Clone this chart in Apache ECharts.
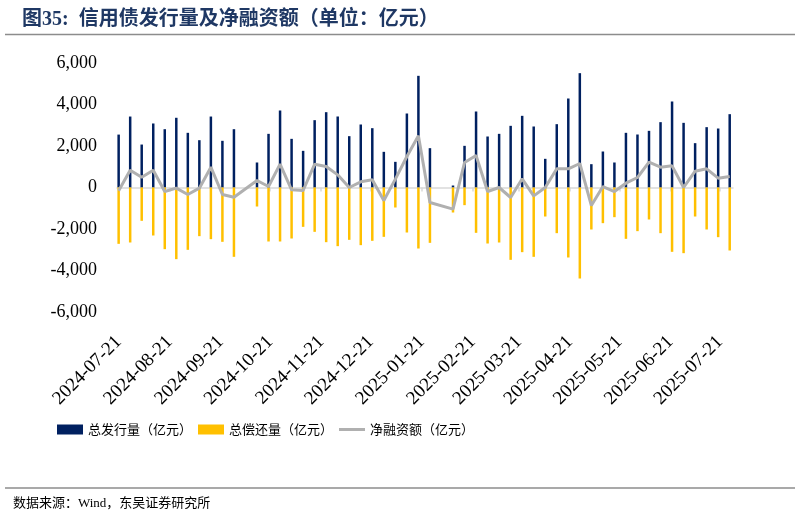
<!DOCTYPE html>
<html><head><meta charset="utf-8">
<script src="https://cdn.jsdelivr.net/npm/echarts@6/dist/echarts.min.js"></script>
<style>html,body{margin:0;padding:0;background:#fff}#c{width:800px;height:520px}</style>
</head><body><div id="c"></div>
<script>
var weeks = ['2024-07-21','2024-07-28','2024-08-04','2024-08-11','2024-08-18','2024-08-25','2024-09-01','2024-09-08','2024-09-15','2024-09-22','2024-09-29','2024-10-06','2024-10-13','2024-10-20','2024-10-27','2024-11-03','2024-11-10','2024-11-17','2024-11-24','2024-12-01','2024-12-08','2024-12-15','2024-12-22','2024-12-29','2025-01-05','2025-01-12','2025-01-19','2025-01-26','2025-02-02','2025-02-09','2025-02-16','2025-02-23','2025-03-02','2025-03-09','2025-03-16','2025-03-23','2025-03-30','2025-04-06','2025-04-13','2025-04-20','2025-04-27','2025-05-04','2025-05-11','2025-05-18','2025-05-25','2025-06-01','2025-06-08','2025-06-15','2025-06-22','2025-06-29','2025-07-06','2025-07-13','2025-07-20','2025-07-27'];
var issuance = [2550,3420,2070,3085,2810,3360,2635,2280,3420,2250,2810,null,1205,2586,3711,2345,1767,3245,3630,3422,2474,3036,2859,1719,1237,3566,5382,1896,null,96,2008,3663,2458,2586,2972,3454,2940,1382,3052,4289,5510,1124,1735,1205,2635,2554,2731,3149,4145,3116,2137,2908,2843,3534];
var repayment = [-2715,-2650,-1606,-2313,-2972,-3454,-3004,-2345,-2490,-2618,-3341,null,-916,-2602,-2602,-2458,-1896,-2137,-2635,-2827,-2522,-2779,-2570,-2378,-964,-2169,-2940,-2667,null,-1205,-851,-2185,-2699,-2651,-3486,-3116,-3341,-1398,-2201,-3373,-4386,-2024,-1719,-1430,-2474,-2104,-1542,-2201,-3100,-3165,-1398,-2024,-2394,-3036];
var netFinancing = [-160,835,498,835,-193,-32,-337,-32,980,-337,-466,null,337,48,1124,-112,-145,1124,1012,610,0,273,369,-627,402,1494,2490,-723,null,-1044,1205,1542,-193,0,-482,418,-402,0,900,900,1157,-867,48,-193,209,482,1221,980,1044,0,787,900,450,530];
var tickLabels = ['2024-07-21','2024-08-21','2024-09-21','2024-10-21','2024-11-21','2024-12-21','2025-01-21','2025-02-21','2025-03-21','2025-04-21','2025-05-21','2025-06-21','2025-07-21'];

var DAY = 86400000;
function dayNum(s){var p=s.split('-');return Math.round(Date.UTC(+p[0],+p[1]-1,+p[2])/DAY);}
function fmtDate(v){var d=new Date(v*DAY);var m=d.getUTCMonth()+1,dd=d.getUTCDate();return d.getUTCFullYear()+'-'+(m<10?'0':'')+m+'-'+(dd<10?'0':'')+dd;}
function pairs(arr){return weeks.map(function(w,i){return [dayNum(w),arr[i]];});}
var tickDays = tickLabels.map(dayNum);
var xMin = dayNum('2024-07-20'), xMax = dayNum('2025-07-29');
var serif = "'Liberation Serif','Noto Sans CJK SC'";
var cjk = "'Noto Sans CJK SC','Liberation Serif'";

var chart = echarts.init(document.getElementById('c'), null, {renderer:'canvas'});
chart.setOption({
  animation:false,
  title:{text:'图35:  信用债发行量及净融资额（单位：亿元）',left:17,top:5,textStyle:{fontFamily:serif,fontSize:20,fontWeight:'bold',color:'#1F3864'}},
  graphic:[
    {type:'line',shape:{x1:5,y1:34.5,x2:795,y2:34.5},style:{stroke:'#8C8C8C',lineWidth:1.5}},
    {type:'line',shape:{x1:5,y1:488,x2:795,y2:488},style:{stroke:'#8C8C8C',lineWidth:1.5}},
    {type:'text',left:13,top:497,style:{text:'数据来源：Wind，东吴证券研究所',fontFamily:serif,fontSize:13,fill:'#000'}}
  ],
  legend:{left:57,top:423,padding:0,itemWidth:26,itemHeight:10,itemGap:6,textStyle:{fontFamily:cjk,fontSize:13,color:'#000'},
    data:[{name:'总发行量（亿元）',icon:'rect'},{name:'总偿还量（亿元）',icon:'rect'},{name:'净融资额（亿元）',icon:'path://M0,0L26,0L26,3L0,3Z'}]},
  grid:{left:117,top:63,width:616,height:249},
  xAxis:[
    {type:'value',min:xMin,max:xMax,position:'bottom',axisLine:{show:false,onZero:false},axisTick:{show:false},splitLine:{show:false},
     axisLabel:{customValues:tickDays,rotate:45,margin:27,fontFamily:serif,fontSize:19,color:'#000',formatter:function(v){return fmtDate(v);}}},
    {type:'value',min:xMin,max:xMax,position:'top',axisLine:{show:true,onZero:true,lineStyle:{color:'#D9D9D9',width:1.5}},
     axisTick:{show:true,inside:true,length:4,customValues:tickDays,lineStyle:{color:'#D9D9D9',width:1.5}},axisLabel:{show:false},splitLine:{show:false}}
  ],
  yAxis:{type:'value',min:-6000,max:6000,interval:2000,axisLine:{show:false},axisTick:{show:false},splitLine:{show:false},
    axisLabel:{margin:20,fontFamily:serif,fontSize:18,color:'#000',formatter:function(v){return echarts.format.addCommas(v);}}},
  series:[
    {name:'总发行量（亿元）',type:'bar',stack:'s',barWidth:2.5,xAxisIndex:0,itemStyle:{color:'#002060'},data:pairs(issuance)},
    {name:'总偿还量（亿元）',type:'bar',stack:'s',barWidth:2.5,xAxisIndex:0,itemStyle:{color:'#FFC000'},data:pairs(repayment)},
    {name:'净融资额（亿元）',type:'line',xAxisIndex:0,symbol:'none',connectNulls:true,lineStyle:{color:'#B0B0B0',width:3},itemStyle:{color:'#B0B0B0'},data:pairs(netFinancing),z:3}
  ]
});
</script></body></html>
